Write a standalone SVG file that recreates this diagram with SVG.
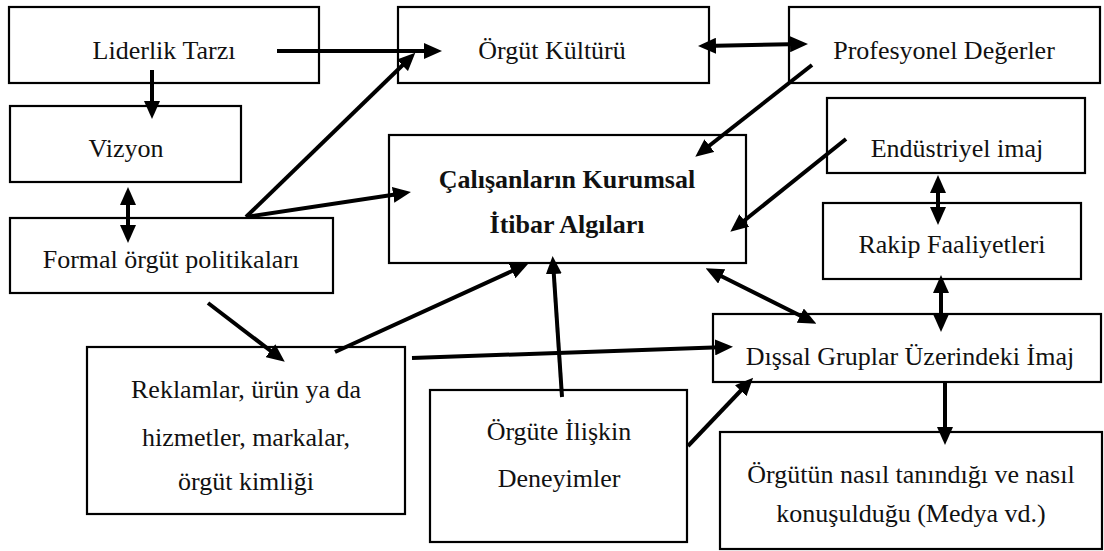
<svg xmlns="http://www.w3.org/2000/svg" width="1104" height="551" viewBox="0 0 1104 551">
<style>
.box{fill:#fff;stroke:#000;stroke-width:2.2}
.t{font-family:"Liberation Serif","Times New Roman","DejaVu Serif",serif;font-size:26px;fill:#111;text-anchor:middle}
.b{font-weight:bold}
.c line{stroke:#000;stroke-width:4}
.a{marker-end:url(#h)}
.d{marker-end:url(#h);marker-start:url(#h)}
</style>
<defs>
<marker id="h" markerUnits="userSpaceOnUse" markerWidth="18" markerHeight="16" viewBox="0 0 18 16" refX="12" refY="8" orient="auto-start-reverse">
<path d="M0,0 L18,8 L0,16 z" fill="#000"/>
</marker>
</defs>
<rect width="1104" height="551" fill="#fff"/>
<g id="n-liderlik"><rect class="box" x="9" y="7" width="310" height="76"/><text class="t" x="164" y="59">Liderlik Tarzı</text></g>
<g id="n-vizyon"><rect class="box" x="10" y="106" width="231" height="76"/><text class="t" x="126" y="157">Vizyon</text></g>
<g id="n-formal"><rect class="box" x="10" y="218" width="323" height="75"/><text class="t" x="171" y="268">Formal örgüt politikaları</text></g>
<g id="n-kultur"><rect class="box" x="398" y="7" width="311" height="76"/><text class="t" x="552" y="59">Örgüt Kültürü</text></g>
<g id="n-profesyonel"><rect class="box" x="789" y="7" width="311" height="76"/><text class="t" x="944" y="59">Profesyonel Değerler</text></g>
<g id="n-endustriyel"><rect class="box" x="827" y="98" width="258" height="75"/><text class="t" x="957" y="157">Endüstriyel imaj</text></g>
<g id="n-itibar"><rect class="box" x="389" y="135" width="357" height="128"/><text class="t b" x="567" y="188">Çalışanların Kurumsal</text><text class="t b" x="567" y="233">İtibar Algıları</text></g>
<g id="n-rakip"><rect class="box" x="823" y="203" width="258" height="76"/><text class="t" x="952" y="253">Rakip Faaliyetleri</text></g>
<g id="n-dissal"><rect class="box" x="713" y="314" width="388" height="68"/><text class="t" x="910" y="365">Dışsal Gruplar Üzerindeki İmaj</text></g>
<g id="n-medya"><rect class="box" x="720" y="432" width="382" height="117"/><text class="t" x="911" y="483">Örgütün nasıl tanındığı ve nasıl</text><text class="t" x="911" y="522">konuşulduğu (Medya vd.)</text></g>
<g id="n-reklam"><rect class="box" x="87" y="347" width="318" height="167"/><text class="t" x="246" y="398">Reklamlar, ürün ya da</text><text class="t" x="246" y="446">hizmetler, markalar,</text><text class="t" x="246" y="490">örgüt kimliği</text></g>
<g id="n-deneyim"><rect class="box" x="430" y="390" width="257" height="152"/><text class="t" x="559" y="440">Örgüte İlişkin</text><text class="t" x="559" y="487">Deneyimler</text></g>
<g id="connectors" class="c">
<line class="a" x1="277" y1="51" x2="436" y2="51"/>
<line class="a" x1="152" y1="70" x2="152" y2="113"/>
<line class="d" x1="128" y1="193" x2="128" y2="237"/>
<line class="a" x1="246" y1="217" x2="411" y2="57"/>
<line class="a" x1="246" y1="217" x2="405" y2="193"/>
<line class="d" x1="704" y1="46" x2="802" y2="44"/>
<line class="a" x1="812" y1="65" x2="700" y2="153"/>
<line class="a" x1="846" y1="139" x2="735" y2="228"/>
<line class="d" x1="938" y1="181" x2="938" y2="219"/>
<line class="d" x1="941" y1="281" x2="941" y2="326"/>
<line class="d" x1="711" y1="271" x2="811" y2="321"/>
<line class="a" x1="335" y1="352" x2="523" y2="266"/>
<line class="a" x1="412" y1="358" x2="727" y2="347"/>
<line class="a" x1="208" y1="303" x2="280" y2="358"/>
<line class="a" x1="562" y1="397" x2="553" y2="262"/>
<line class="a" x1="688" y1="446" x2="749" y2="382"/>
<line class="a" x1="945" y1="382" x2="945" y2="439"/>
</g>
</svg>
